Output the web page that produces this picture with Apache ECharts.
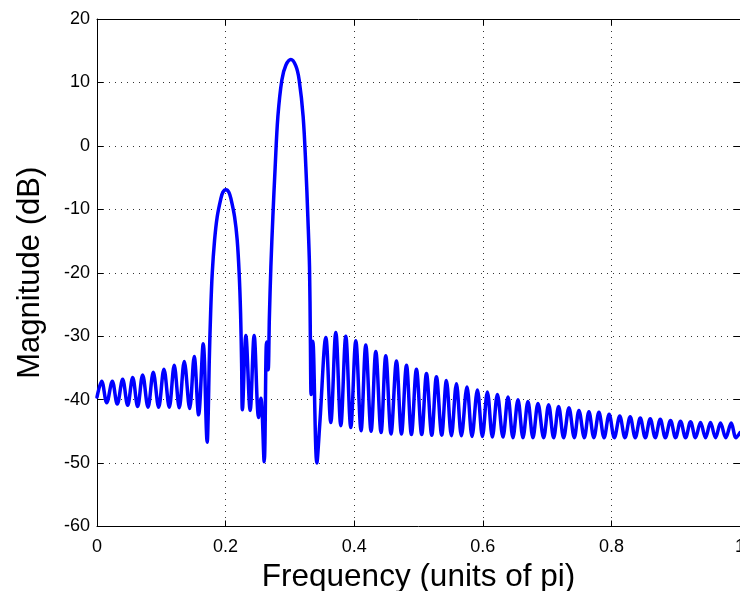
<!DOCTYPE html>
<html>
<head>
<meta charset="utf-8">
<script src="https://cdn.jsdelivr.net/npm/echarts@6/dist/echarts.min.js"></script>
<style>
html,body{margin:0;padding:0;background:#fff;}
#chart{width:740px;height:591px;}
</style>
</head>
<body>
<div id="chart"></div>
<script>
// Frequency (units of pi) and magnitude (dB)
const freq = [
  0.0000, 0.0073, 0.0151, 0.0238, 0.0315, 0.0399, 0.0477, 0.0555, 0.0632, 0.0710,
  0.0793, 0.0875, 0.0959, 0.1041, 0.1124, 0.1201, 0.1279, 0.1357, 0.1441, 0.1512,
  0.1580, 0.1652, 0.1714,
  0.1730, 0.1745, 0.1767, 0.1792, 0.1829, 0.1869, 0.1922, 0.1958, 0.2005, 0.2051, 0.2087, 0.2140,
  0.2180, 0.2211, 0.2233, 0.2249, 0.2261,
  0.2315, 0.2382, 0.2444, 0.2513, 0.2549, 0.2600, 0.2637, 0.2662,
  0.2681, 0.2704, 0.2735, 0.2771, 0.2813, 0.2875, 0.2937, 0.3015, 0.3092, 0.3144, 0.3206, 0.3248,
  0.3279, 0.3305, 0.3318, 0.3330,
  0.3357, 0.3419, 0.3465, 0.3559, 0.3636, 0.3714, 0.3792, 0.3869, 0.3947, 0.4025,
  0.4107, 0.4180, 0.4263, 0.4336, 0.4418, 0.4491, 0.4573, 0.4657, 0.4735, 0.4813,
  0.4890, 0.4968, 0.5050, 0.5124, 0.5206, 0.5279, 0.5361, 0.5434, 0.5512, 0.5590,
  0.5667, 0.5754, 0.5832, 0.5916, 0.5994, 0.6071, 0.6149, 0.6227, 0.6314, 0.6392,
  0.6469, 0.6547, 0.6625, 0.6702, 0.6780, 0.6858, 0.6946, 0.7024, 0.7102, 0.7179,
  0.7257, 0.7340, 0.7423, 0.7495, 0.7579, 0.7650, 0.7727, 0.7806, 0.7886, 0.7965,
  0.8046, 0.8130, 0.8211, 0.8292, 0.8371, 0.8449, 0.8527, 0.8604, 0.8682, 0.8760,
  0.8839, 0.8920, 0.8998, 0.9075, 0.9153, 0.9231, 0.9308, 0.9386, 0.9464, 0.9541,
  0.9619, 0.9697, 0.9779, 0.9863, 0.9938, 1.0000
];
const magnitude = [
  -39.6, -37.1, -40.5, -37.1, -40.7, -36.8, -40.9, -36.5, -41.1, -36.1,
  -41.2, -35.7, -41.2, -35.2, -41.2, -34.6, -41.3, -34.0, -41.4, -33.2,
  -42.4, -31.2, -46.7,
  -42.2, -34.3, -26.4, -20.1, -14.8, -11.2, -8.5, -7.3, -6.9, -7.3, -8.5, -11.2,
  -14.8, -20.1, -26.4, -34.3, -41.6,
  -29.9, -41.7, -29.9, -42.8, -39.8, -49.8, -30.9, -35.3,
  -27.0, -19.1, -11.2, -3.3, 4.6, 10.4, 12.7, 13.6, 12.6, 10.4, 4.6, -3.3,
  -11.2, -19.1, -30.0, -39.2,
  -30.8, -50.0, -43.8, -30.2, -43.6, -29.4, -44.1, -30.0, -44.4, -30.7,
  -44.9, -31.4, -45.0, -32.4, -45.2, -33.1, -45.4, -33.9, -45.4, -34.6,
  -45.5, -35.2, -45.5, -35.9, -45.6, -36.4, -45.6, -37.0, -45.7, -37.5,
  -45.7, -38.0, -45.8, -38.5, -45.8, -38.8, -45.9, -39.2, -45.9, -39.6,
  -46.0, -40.0, -46.0, -40.3, -46.0, -40.6, -46.0, -40.8, -46.0, -41.1,
  -46.0, -41.3, -46.0, -41.7, -46.0, -41.9, -46.0, -42.0, -46.0, -42.3,
  -46.0, -42.6, -46.0, -42.7, -46.0, -42.9, -46.0, -43.0, -46.0, -43.1,
  -46.0, -43.3, -46.0, -43.4, -46.0, -43.5, -46.0, -43.6, -46.0, -43.6,
  -46.0, -43.7, -46.0, -43.7, -46.0, -45.2
];
const xTickLabels = ['0', '0.2', '0.4', '0.6', '0.8', '1'];
const yTickLabels = ['-60', '-50', '-40', '-30', '-20', '-10', '0', '10', '20'];

const seriesData = freq.map((f, i) => [f, magnitude[i]]);

const FONT = '"Liberation Sans", Arial, Helvetica, sans-serif';
const gridLine = { show: true, lineStyle: { color: '#333', width: 1, type: [1, 5] } };
const tick = { show: true, inside: true, length: 6, lineStyle: { color: '#000', width: 1 } };

const chart = echarts.init(document.getElementById('chart'), null, { renderer: 'canvas' });
chart.setOption({
  animation: false,
  backgroundColor: '#fff',
  grid: { left: 97, top: 19, right: 0, bottom: 64.5, containLabel: false, outerBoundsMode: 'none' },
  xAxis: [
    {
      type: 'value', min: 0, max: 1, interval: 0.2, position: 'bottom',
      name: 'Frequency (units of pi)', nameLocation: 'middle', nameGap: 29,
      nameTextStyle: { fontFamily: FONT, fontSize: 31.5, color: '#000' },
      axisLine: { show: true, onZero: false, lineStyle: { color: '#000', width: 1 } },
      axisTick: tick,
      axisLabel: {
        fontFamily: FONT, fontSize: 18, color: '#000', margin: 12,
        showMinLabel: true, showMaxLabel: true,
        formatter: v => xTickLabels[Math.round(v / 0.2)]
      },
      splitLine: gridLine
    },
    {
      type: 'value', min: 0, max: 1, interval: 0.2, position: 'top',
      axisLine: { show: true, onZero: false, lineStyle: { color: '#000', width: 1 } },
      axisTick: tick, axisLabel: { show: false }, splitLine: { show: false }
    }
  ],
  yAxis: [
    {
      type: 'value', min: -60, max: 20, interval: 10, position: 'left',
      name: 'Magnitude (dB)', nameLocation: 'middle', nameGap: 51, nameRotate: 90,
      nameTextStyle: { fontFamily: FONT, fontSize: 31, color: '#000' },
      axisLine: { show: true, onZero: false, lineStyle: { color: '#000', width: 1 } },
      axisTick: tick,
      axisLabel: {
        fontFamily: FONT, fontSize: 18, color: '#000', margin: 7,
        formatter: v => yTickLabels[Math.round((v + 60) / 10)]
      },
      splitLine: gridLine
    },
    {
      type: 'value', min: -60, max: 20, interval: 10, position: 'right',
      axisLine: { show: true, onZero: false, lineStyle: { color: '#000', width: 1 } },
      axisTick: tick, axisLabel: { show: false }, splitLine: { show: false }
    }
  ],
  series: [
    {
      type: 'line', xAxisIndex: 0, yAxisIndex: 0,
      data: seriesData,
      showSymbol: false, symbol: 'none',
      smooth: 0.35,
      lineStyle: { color: '#0000ff', width: 3.5, join: 'round', cap: 'round' }
    }
  ]
});
</script>
</body>
</html>
